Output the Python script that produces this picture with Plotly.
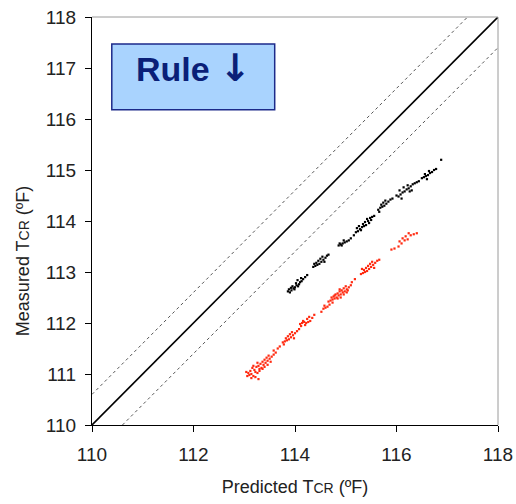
import plotly.graph_objects as go

# ---- data ----
black_x = [113.86,113.90,113.93,113.88,113.97,114.00,113.95,114.03,114.06,114.08,114.02,114.10,114.13,114.05,114.16,114.12,113.92,113.99,114.20,114.24,
           114.36,114.40,114.44,114.48,114.42,114.52,114.46,114.56,114.50,114.60,114.54,114.63,114.58,114.66,114.38,
           114.86,114.90,114.94,114.92,114.98,115.02,114.96,115.06,115.10,114.88,115.16,
           115.20,115.24,115.28,115.22,115.32,115.30,115.36,115.34,115.40,115.38,115.44,115.42,115.48,115.52,115.46,115.56,115.26,115.50,
           115.64,115.68,115.72,115.76,115.70,115.80,115.74,115.84,115.78,115.88,115.66,115.92,
           116.00,116.04,116.08,116.12,116.06,116.16,116.20,116.14,116.24,116.28,116.22,116.32,116.36,116.30,116.40,116.10,116.26,116.44,
           116.50,116.54,116.58,116.62,116.56,116.66,116.70,116.64,116.74,116.78,116.60,116.88]
black_y = [112.62,112.60,112.64,112.66,112.68,112.70,112.72,112.74,112.72,112.76,112.78,112.80,112.82,112.84,112.86,112.88,112.69,112.66,112.90,112.94,
           113.10,113.12,113.14,113.16,113.18,113.20,113.22,113.24,113.26,113.28,113.30,113.32,113.20,113.34,113.16,
           113.52,113.54,113.56,113.52,113.58,113.60,113.62,113.62,113.66,113.56,113.72,
           113.78,113.80,113.84,113.86,113.88,113.82,113.90,113.94,113.92,113.98,114.00,114.04,114.06,114.08,113.96,114.10,113.90,114.02,
           114.22,114.26,114.28,114.30,114.32,114.34,114.36,114.38,114.40,114.42,114.18,114.44,
           114.50,114.48,114.52,114.56,114.60,114.58,114.62,114.66,114.64,114.68,114.70,114.72,114.74,114.60,114.76,114.44,114.58,114.78,
           114.84,114.86,114.88,114.90,114.92,114.94,114.96,114.98,115.00,115.02,114.82,115.20]

red_x = [113.06,113.10,113.14,113.18,113.08,113.22,113.26,113.12,113.20,113.30,113.16,113.24,113.34,113.28,113.38,113.32,113.42,113.36,113.46,113.40,
         113.50,113.44,113.54,113.48,113.58,113.26,113.18,113.30,113.22,113.36,113.40,113.46,113.52,113.14,113.28,113.04,113.62,113.58,113.66,113.70,
         113.76,113.80,113.84,113.88,113.82,113.92,113.86,113.96,113.90,114.00,113.94,114.04,113.98,114.08,113.78,
         114.10,114.14,114.18,114.22,114.16,114.26,114.20,114.30,114.24,114.34,114.12,114.28,114.38,
         114.52,114.56,114.60,114.64,114.58,114.68,
         114.66,114.70,114.74,114.78,114.72,114.82,114.76,114.86,114.80,114.90,114.84,114.94,114.88,114.98,114.92,115.02,114.96,115.06,115.00,115.10,
         114.84,114.90,114.96,115.02,114.78,114.74,115.04,114.88,115.12,115.18,
         115.30,115.34,115.38,115.42,115.36,115.46,115.40,115.50,115.44,115.54,115.48,115.58,115.52,115.62,115.66,115.32,115.56,
         115.90,115.96,116.04,116.10,116.06,116.16,116.12,116.22,116.18,116.28,116.24,116.34,116.40]
red_y = [110.96,110.98,111.00,110.96,111.02,111.04,111.02,111.06,111.08,111.10,111.12,111.14,111.12,111.16,111.18,111.20,111.22,111.24,111.26,111.28,
         111.30,111.32,111.34,111.36,111.38,111.22,111.16,111.06,110.94,111.10,111.14,111.18,111.24,110.92,110.90,111.04,111.42,111.46,111.50,111.54,
         111.62,111.64,111.66,111.68,111.70,111.72,111.74,111.76,111.78,111.80,111.82,111.84,111.70,111.88,111.58,
         111.98,112.00,112.02,112.00,112.04,112.02,111.96,112.04,112.08,112.10,111.94,112.12,112.16,
         112.22,112.28,112.30,112.32,112.34,112.36,
         112.42,112.44,112.46,112.48,112.50,112.50,112.52,112.54,112.56,112.56,112.58,112.60,112.62,112.62,112.64,112.66,112.68,112.70,112.72,112.74,
         112.48,112.50,112.56,112.60,112.54,112.40,112.64,112.66,112.80,112.86,
         112.96,112.98,113.00,113.02,113.04,113.06,113.08,113.10,113.12,113.14,113.16,113.18,113.20,113.22,113.24,113.06,113.08,
         113.44,113.46,113.50,113.56,113.60,113.62,113.66,113.64,113.70,113.72,113.76,113.74,113.76]

diag_x = [110, 118]
band = 0.6
axis_ticks = [110, 111, 112, 113, 114, 115, 116, 117, 118]
x_ticks = [110, 112, 114, 116, 118]

FONT = "Liberation Sans, Arial, sans-serif"
SUB = "<span style='font-size:14px'>CR</span>"

fig = go.Figure()
fig.add_trace(go.Scatter(x=diag_x, y=diag_x, mode="lines",
                         line=dict(color="black", width=1.6), hoverinfo="skip"))
fig.add_trace(go.Scatter(x=[diag_x[0], diag_x[1] - band], y=[diag_x[0] + band, diag_x[1]], mode="lines",
                         line=dict(color="#555555", width=1, dash="dot"), hoverinfo="skip"))
fig.add_trace(go.Scatter(x=[diag_x[0] + band, diag_x[1]], y=[diag_x[0], diag_x[1] - band], mode="lines",
                         line=dict(color="#555555", width=1, dash="dot"), hoverinfo="skip"))
fig.add_trace(go.Scatter(x=black_x, y=black_y, mode="markers",
                         marker=dict(symbol="square", size=2.2, color="black", line=dict(width=0))))
fig.add_trace(go.Scatter(x=red_x, y=red_y, mode="markers",
                         marker=dict(symbol="square", size=2.2, color="#ff2a10", line=dict(width=0))))

# frame: grey top and right
fig.add_shape(type="line", xref="paper", yref="paper", x0=0, x1=1, y0=1, y1=1,
              line=dict(color="#9a9a9a", width=1))
fig.add_shape(type="line", xref="paper", yref="paper", x0=1, x1=1, y0=0, y1=1,
              line=dict(color="#9a9a9a", width=1))

# Rule box
fig.add_shape(type="rect", xref="x", yref="y", x0=110.39, x1=113.6, y0=116.18, y1=117.47,
              fillcolor="#a9d3fe", line=dict(color="#1c2a8a", width=1.5))
fig.add_annotation(x=111.995, y=117.0, xref="x", yref="y",
                   text="<b>Rule <span style='font-family:DejaVu Sans;font-size:38px'>\u2193</span></b>",
                   showarrow=False, font=dict(family=FONT, size=34, color="#0a1f78"))

# y-axis title (placed below plot centre, as in the reference)
fig.add_annotation(xref="paper", yref="paper", x=-0.17, y=0.404, xanchor="center", yanchor="middle",
                   text="Measured T" + SUB + " (ºF)", textangle=-90, showarrow=False,
                   font=dict(family=FONT, size=18, color="#222222"))

fig.update_layout(
    width=516, height=504,
    margin=dict(l=92, r=18, t=17, b=79),
    paper_bgcolor="white", plot_bgcolor="white",
    showlegend=False,
    font=dict(family=FONT, color="#222222"),
)
fig.update_xaxes(range=[110, 118], tickvals=x_ticks, showgrid=False, zeroline=False, automargin=False,
                 showline=True, linecolor="black", linewidth=1.2, ticks="outside",
                 ticklen=6, tickcolor="black", tickfont=dict(size=19, color="#222222"),
                 ticklabelstandoff=6,
                 title=dict(text="Predicted T" + SUB + " (ºF)", font=dict(size=18, color="#222222"), standoff=16))
fig.update_yaxes(range=[110, 118], tickvals=axis_ticks, showgrid=False, zeroline=False, automargin=False,
                 showline=True, linecolor="black", linewidth=1.2, ticks="outside",
                 ticklen=6, tickcolor="black", tickfont=dict(size=19, color="#222222"),
                 ticklabelstandoff=5)

fig.write_html("out.html", config={"displayModeBar": False},
               post_script="document.body.style.margin='0';document.body.style.overflow='hidden';")
